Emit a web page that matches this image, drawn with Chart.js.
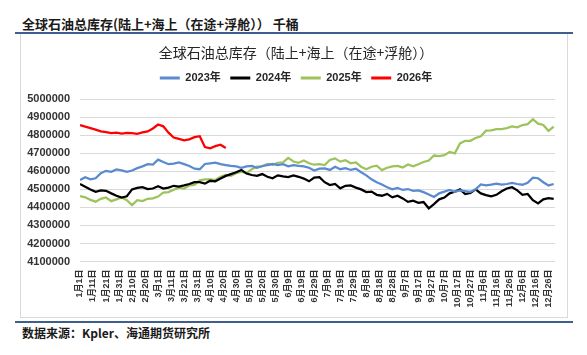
<!DOCTYPE html>
<html><head><meta charset="utf-8">
<script src="https://cdn.jsdelivr.net/npm/chart.js@4.4.1/dist/chart.umd.min.js"></script>
<style>
html,body{margin:0;padding:0;background:#fff;width:587px;height:355px;overflow:hidden;position:relative;font-family:'Noto Sans CJK SC',sans-serif}
#hdr{position:absolute;left:22px;top:15px;font-size:13px;font-weight:bold;color:#1a1a1a;white-space:nowrap;line-height:18px}
#rule1{position:absolute;left:15px;top:32px;width:558px;height:2px;background:#3E5E8C}
#box{position:absolute;left:20px;top:34px;width:546px;height:283px;border:1px solid #D9D9D9;border-top:none}
#rule2{position:absolute;left:15px;top:321px;width:558px;height:2px;background:#3E5E8C}
#ftr{position:absolute;left:22px;top:324px;font-size:12px;font-weight:bold;color:#1a1a1a;white-space:nowrap;line-height:18px}
#c{position:absolute;left:20px;top:35px}
</style></head>
<body>
<div id="hdr">全球石油总库存(陆上+海上（在途+浮舱）） 千桶</div>
<div id="rule1"></div>
<div id="box"></div>
<canvas id="c" width="547" height="283"></canvas>
<div id="rule2"></div>
<div id="ftr">数据来源：Kpler、海通期货研究所</div>
<script>
const chartTitle = '全球石油总库存（陆上+海上（在途+浮舱））';
const seriesNames = ['2023年','2024年','2025年','2026年'];
const tickLabels = ['1月1日','1月11日','1月21日','1月31日','2月10日','2月20日','3月1日','3月11日','3月21日','3月31日','4月10日','4月20日','4月30日','5月10日','5月20日','5月30日','6月9日','6月19日','6月29日','7月9日','7月19日','7月29日','8月8日','8月18日','8月28日','9月7日','9月17日','9月27日','10月7日','10月17日','10月27日','11月6日','11月16日','11月26日','12月6日','12月16日','12月26日'];
// day-of-year index (0 = 1月1日) of each sample
const sampleDays = [0,4,8,12,16,20,24,28,32,36,40,44,48,52,56,60,64,68,72,76,80,84,88,92,96,100,104,108,112,116,120,124,128,132,136,140,144,148,152,156,160,164,168,172,176,180,184,188,192,196,200,204,208,212,216,220,224,228,232,236,240,244,248,252,256,260,264,268,272,276,280,284,288,292,296,300,304,308,312,316,320,324,328,332,336,340,344,348,352,356,360,364];
const s2023 = [4552000,4568000,4556000,4562000,4590000,4603000,4598000,4611000,4606000,4598000,4605000,4618000,4628000,4640000,4638000,4665000,4652000,4640000,4643000,4650000,4640000,4630000,4615000,4612000,4641000,4645000,4648000,4640000,4635000,4630000,4628000,4620000,4628000,4630000,4620000,4630000,4635000,4641000,4635000,4640000,4628000,4635000,4630000,4628000,4620000,4605000,4615000,4617000,4608000,4626000,4612000,4618000,4608000,4615000,4595000,4578000,4556000,4540000,4527000,4512000,4500000,4508000,4497000,4502000,4492000,4495000,4485000,4472000,4458000,4478000,4488000,4497000,4487000,4494000,4490000,4487000,4500000,4528000,4522000,4526000,4532000,4527000,4530000,4536000,4530000,4526000,4537000,4565000,4562000,4540000,4522000,4530000];
const s2024 = [4530000,4515000,4500000,4487000,4495000,4492000,4478000,4465000,4455000,4462000,4500000,4508000,4512000,4502000,4505000,4518000,4505000,4510000,4520000,4515000,4522000,4530000,4540000,4540000,4532000,4548000,4545000,4560000,4575000,4585000,4595000,4608000,4588000,4580000,4575000,4585000,4570000,4562000,4578000,4572000,4568000,4578000,4570000,4560000,4545000,4565000,4568000,4540000,4524000,4530000,4506000,4520000,4522000,4510000,4500000,4485000,4488000,4470000,4465000,4475000,4456000,4465000,4450000,4431000,4437000,4426000,4430000,4395000,4418000,4445000,4455000,4478000,4487000,4500000,4474000,4480000,4500000,4478000,4468000,4462000,4470000,4490000,4505000,4512000,4495000,4470000,4475000,4440000,4422000,4445000,4452000,4448000];
const s2025 = [4463000,4456000,4442000,4432000,4448000,4455000,4435000,4445000,4455000,4440000,4413000,4440000,4435000,4448000,4450000,4460000,4482000,4485000,4498000,4510000,4505000,4522000,4525000,4550000,4555000,4555000,4552000,4570000,4580000,4575000,4590000,4598000,4590000,4612000,4626000,4628000,4642000,4637000,4648000,4650000,4675000,4655000,4648000,4660000,4645000,4637000,4640000,4635000,4663000,4672000,4654000,4662000,4645000,4650000,4626000,4612000,4626000,4632000,4607000,4620000,4628000,4630000,4622000,4638000,4628000,4640000,4652000,4660000,4688000,4685000,4690000,4708000,4700000,4755000,4770000,4770000,4785000,4795000,4826000,4828000,4835000,4835000,4840000,4850000,4845000,4857000,4862000,4889000,4865000,4858000,4825000,4848000];
const s2026 = [4857000,4848000,4840000,4832000,4822000,4818000,4812000,4815000,4810000,4814000,4812000,4808000,4816000,4822000,4838000,4860000,4850000,4815000,4788000,4780000,4772000,4778000,4790000,4795000,4735000,4728000,4740000,4748000,4730000];
const colors = ['#5A8ACF','#000000','#9DC35B','#FF0000'];

const toPts = vals => vals.map((v,i)=>({x: sampleDays[i], y: v}));
const allSeries = [s2023, s2024, s2025, s2026];

Chart.defaults.font.family = "'Liberation Sans','Noto Sans CJK SC',sans-serif";
new Chart(document.getElementById('c'), {
  type: 'line',
  data: {
    datasets: allSeries.map((s,i)=>({
      label: seriesNames[i], data: toPts(s), borderColor: colors[i], backgroundColor: colors[i],
      borderWidth: 2.25, pointRadius: 0, tension: 0, fill: false
    }))
  },
  options: {
    responsive: false, animation: false, devicePixelRatio: 1,
    layout: {padding: {top: 0, left: 5, right: 0, bottom: 0}},
    plugins: {
      title: {display: true, text: chartTitle, color: '#262626',
        font: {family: "'Noto Sans CJK SC',sans-serif", size: 14, weight: 'normal', lineHeight: 1.2},
        padding: {top: 9.6, bottom: 1.6}},
      subtitle: {display: true, text: '', weight: 500, font: {size: 5.8, lineHeight: 1}, padding: 0},
      legend: {display: true, position: 'top',
        labels: {boxWidth: 20, boxHeight: 3, padding: 9.5, color: '#262626',
          font: {size: 11, weight: 'bold'},
          generateLabels(chart) {
            const items = Chart.defaults.plugins.legend.labels.generateLabels(chart);
            items.forEach(it => { it.lineWidth = 0; it.fillStyle = it.strokeStyle; });
            return items;
          }}},
      tooltip: {enabled: false}
    },
    scales: {
      x: {type: 'linear', min: 0, max: 365,
        grid: {display: false, drawTicks: false}, border: {display: false},
        afterFit: s => { s.height = 56.5; s.paddingRight = 12; },
        ticks: {stepSize: 10, includeBounds: false, autoSkip: false, maxTicksLimit: 100,
          minRotation: 90, maxRotation: 90, padding: 8, color: '#333',
          font: {size: 9, weight: 'bold'},
          callback: v => tickLabels[Math.round(v/10)]}},
      y: {min: 4100000, max: 5000000,
        grid: {color: '#D9D9D9', lineWidth: 1, drawTicks: false}, border: {display: false},
        afterFit: s => { s.width = 55; },
        ticks: {stepSize: 100000, padding: 10, color: '#333', font: {size: 11, weight: 'bold'},
          callback: v => String(v)}}
    }
  }
});
</script>
</body></html>
